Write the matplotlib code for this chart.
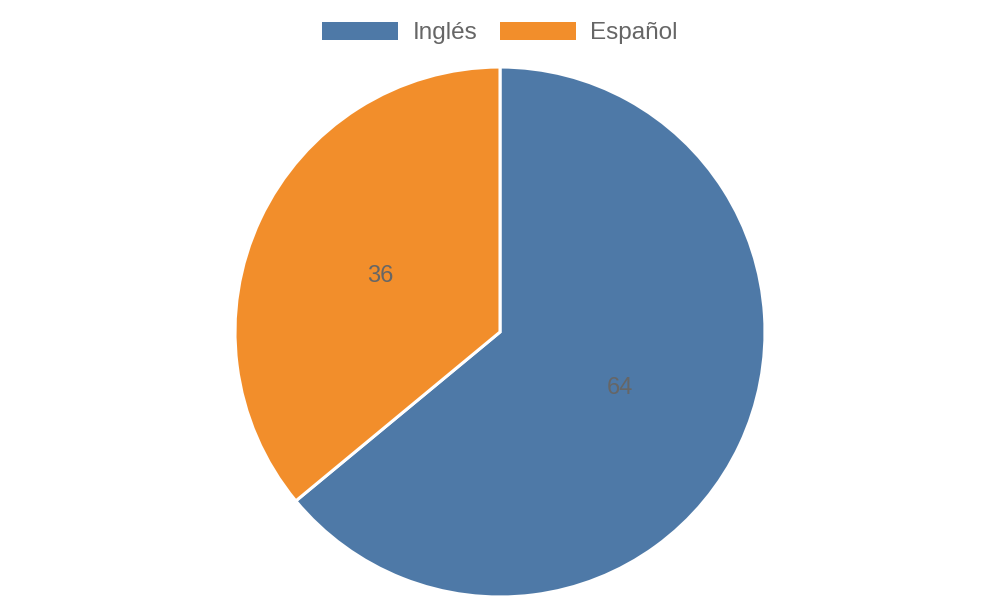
import matplotlib
matplotlib.use("Agg")
import matplotlib.pyplot as plt
import numpy as np

categories = ["Inglés", "Español"]
values = [64, 36]
colors = ["#4E79A7", "#F28E2B"]

plt.rcParams['font.family'] = ['Liberation Sans', 'DejaVu Sans']

fig = plt.figure(figsize=(10, 6), dpi=100)
ax = fig.add_axes([0.235, 0.005, 0.53, 0.8833])
wedges, texts = ax.pie(values, colors=colors, startangle=90, counterclock=False,
                       radius=1.0, labels=None,
                       wedgeprops=dict(edgecolor="white", linewidth=2.2))
for w, v in zip(wedges, values):
    ang = np.deg2rad((w.theta1 + w.theta2) / 2)
    ax.text(0.5 * np.cos(ang), 0.5 * np.sin(ang), str(v), ha="center", va="center",
            fontsize=17, color="#666666")
ax.set_xlim(-1.0, 1.0)
ax.set_ylim(-1.0, 1.0)
ax.set_aspect("equal")
ax.axis("off")

leg = fig.legend(wedges, categories, loc="center", bbox_to_anchor=(0.5, 0.945),
                 ncol=2, frameon=False, fontsize=17.5, labelcolor="#666666",
                 handlelength=3.13, handleheight=0.82, handletextpad=0.58,
                 columnspacing=0.95)
for h in leg.legend_handles:
    h.set_edgecolor("none")

fig.savefig("out.png", dpi=100)
